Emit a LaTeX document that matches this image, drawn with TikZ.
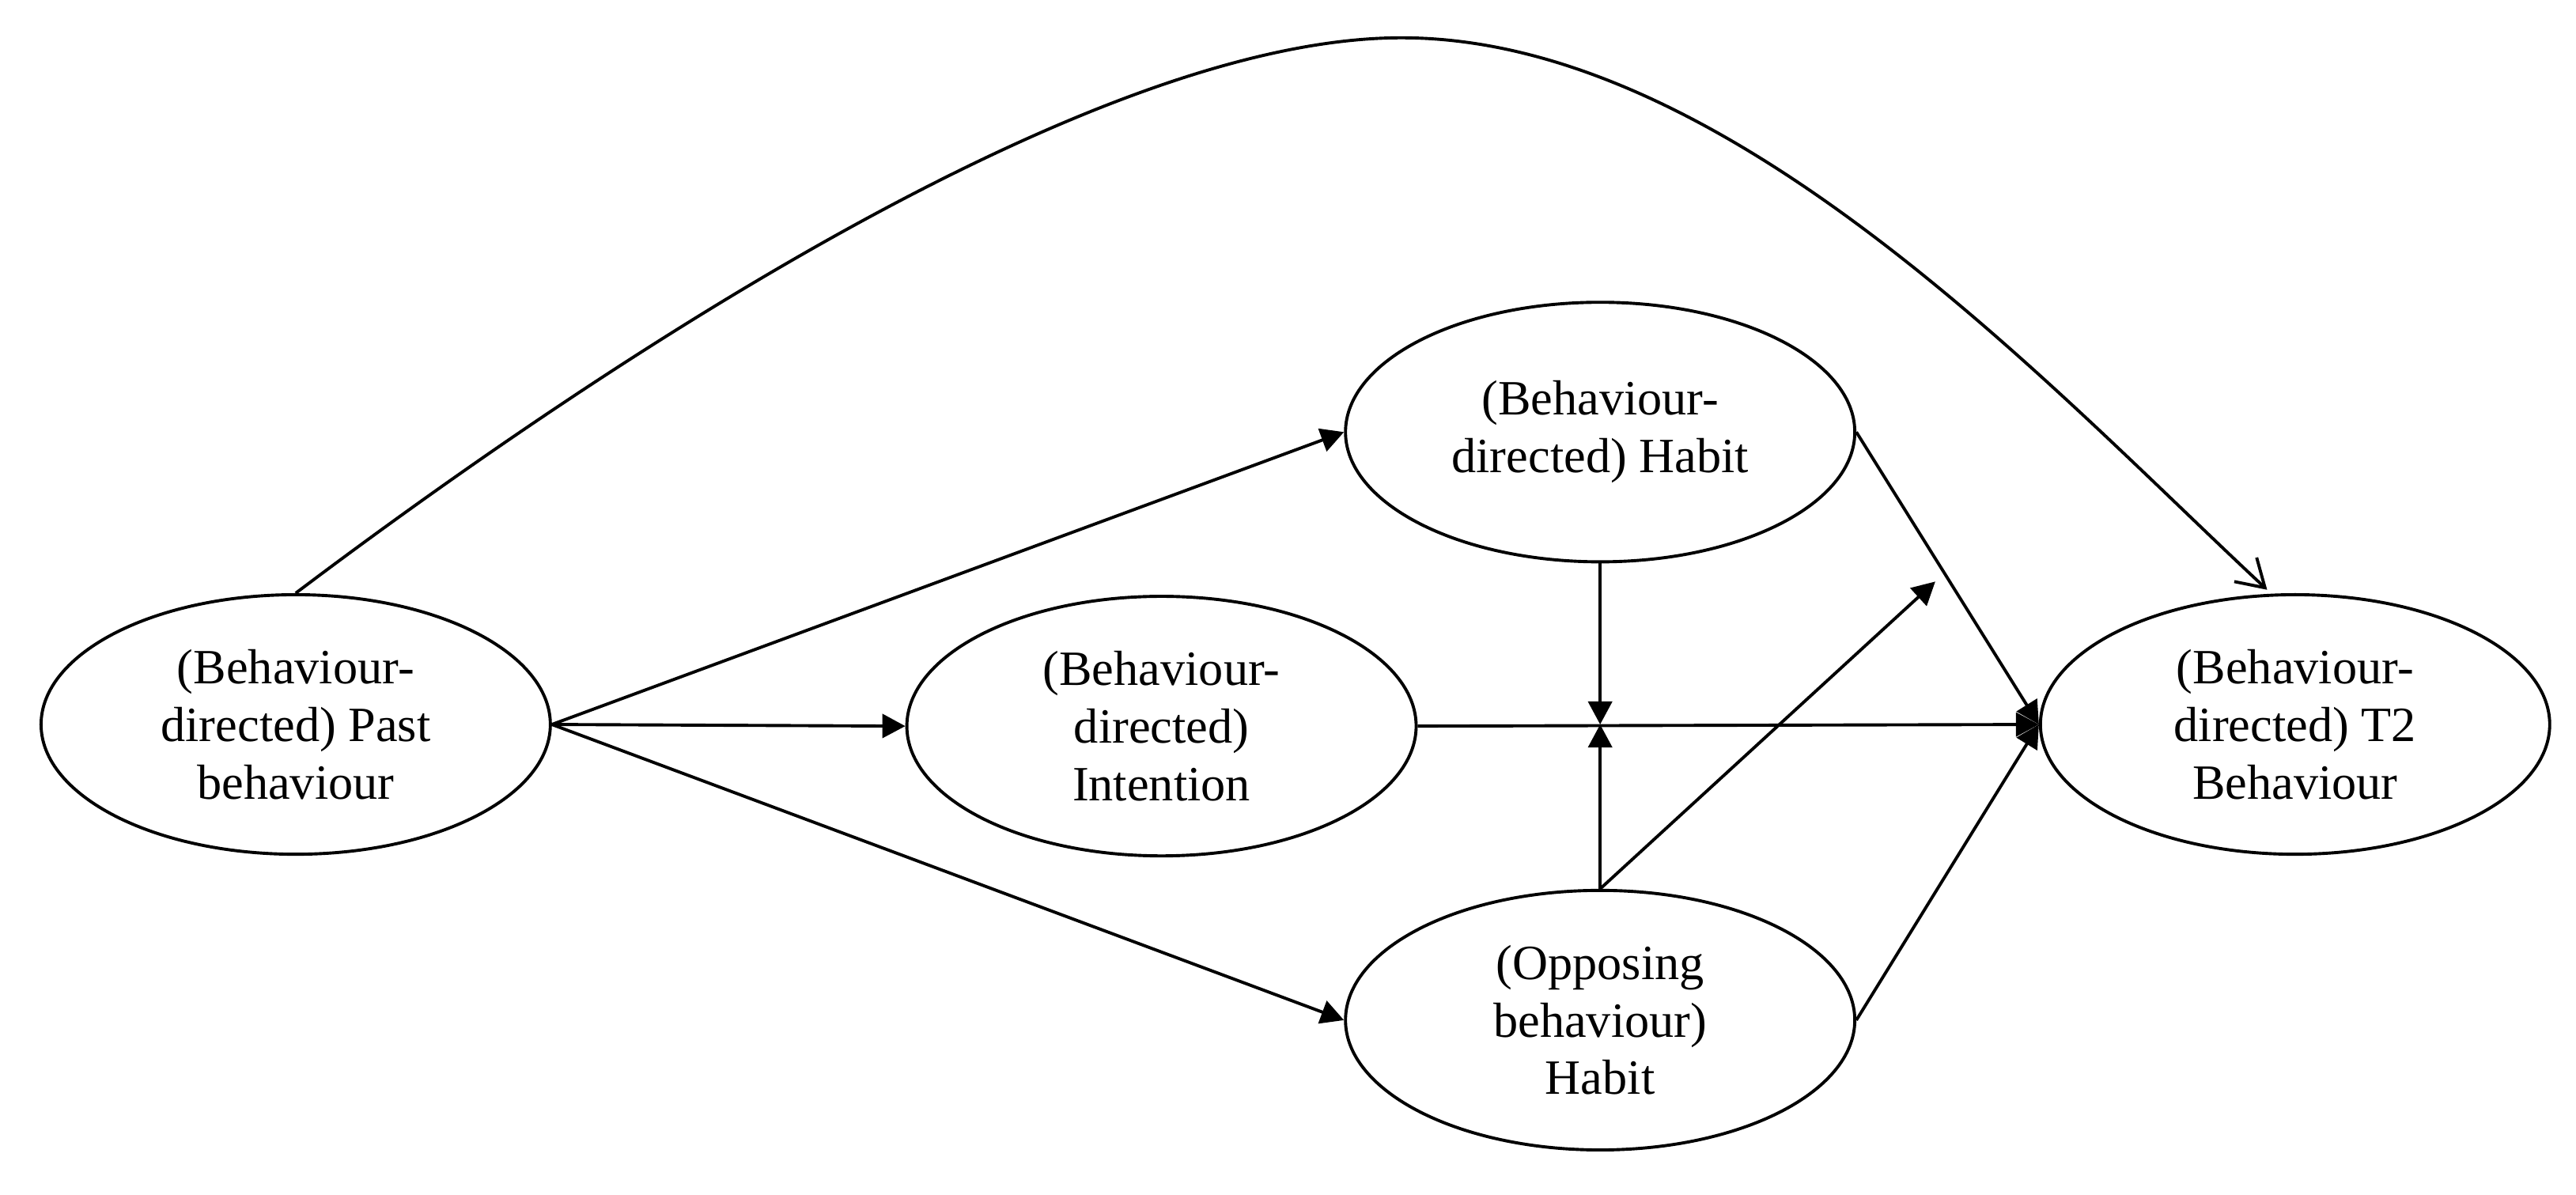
\documentclass[tikz,border=0pt]{standalone}
\usepackage{fontspec}
\setmainfont{Liberation Serif}
\usetikzlibrary{shapes.geometric,arrows.meta}
\begin{document}
\begin{tikzpicture}[x=0.4pt,y=-0.4pt,
  construct/.style={draw, ellipse, line width=0.75pt, minimum width=124pt, minimum height=63.2pt,
    inner sep=0pt, align=center, font=\fontsize{12}{14}\selectfont},
  link/.style={line width=0.75pt, -{Triangle[length=5.6pt,width=5.8pt]}},
  openlink/.style={line width=0.75pt, -{Straight Barb[length=6.5pt,width=8pt]}}]
\useasboundingbox (0,0) rectangle (1568,727);
\node[construct] (past) at (180,441) {(Behaviour-\\directed) Past\\behaviour};
\node[construct] (int) at (707,442) {(Behaviour-\\directed)\\Intention};
\node[construct] (hab) at (974,263) {(Behaviour-\\directed) Habit};
\node[construct] (opp) at (974,621) {(Opposing\\behaviour)\\Habit};
\node[construct] (t2) at (1397,441) {(Behaviour-\\directed) T2\\Behaviour};
\coordinate (cross) at (974,441);
\coordinate (free) at (1178,354);
\coordinate (t2top) at (1380,359);
\coordinate (peak) at (853,23);
\draw[openlink] (past.north) .. controls (332,246.5) and (653,23) .. (peak)
  .. controls (1053,23) and (1250,238) .. (t2top);
\draw[link] (past.east) -- (hab.west);
\draw[link] (past.east) -- (int.west);
\draw[link] (past.east) -- (opp.west);
\draw[link] (hab.south) -- (cross);
\draw[link] (opp.north) -- (cross);
\draw[link] (opp.north) -- (free);
\draw[link] (int.east) -- (t2.west);
\draw[link] (hab.east) -- (t2.west);
\draw[link] (opp.east) -- (t2.west);
\end{tikzpicture}
\end{document}
